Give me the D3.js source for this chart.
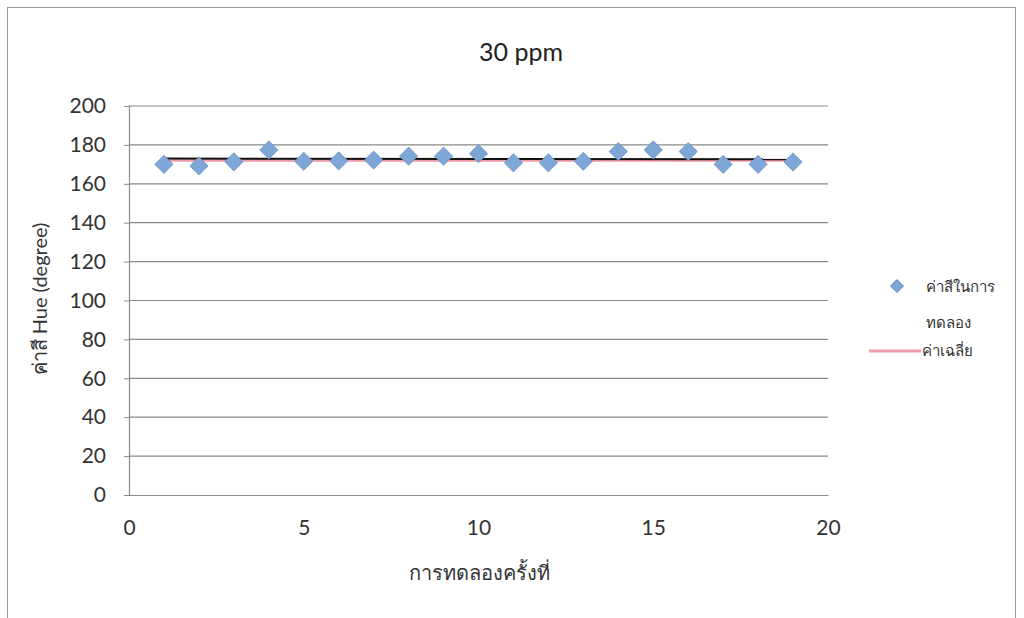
<!DOCTYPE html>
<html><head><meta charset="utf-8">
<script src="https://cdn.jsdelivr.net/npm/d3@7"></script>
<style>body{margin:0;background:#fff}svg{display:block}</style>
</head><body><svg id="c" width="1024" height="618"></svg>
<script>
const trials = [1,2,3,4,5,6,7,8,9,10,11,12,13,14,15,16,17,18,19];
const hueValues = [170,169.2,171.3,177.4,171.6,171.8,172.2,174.2,174.2,175.5,170.8,170.8,171.6,176.6,177.4,176.6,170,170,171.2];
const meanX = [1,19];
const meanValues = [172.1,172.1];
const trendValues = [173.0,172.6];
const yTicks = [0,20,40,60,80,100,120,140,160,180,200];
const xTicks = [0,5,10,15,20];
const title = "30 ppm";
const xTitle = "การทดลองครั้งที่";
const yTitle = "ค่าสี Hue (degree)";
const legendLabels = ["ค่าสีในการ","ทดลอง","ค่าเฉลี่ย"];

const svg = d3.select("#c");
const font = "Lato,'Open Sans','Noto Sans',sans-serif";
const L=129,R=828,T=106,B=495;
const x = d3.scaleLinear().domain([0,20]).range([L,R]);
const y = d3.scaleLinear().domain([0,200]).range([B,T]);

// outer border
svg.append("rect").attr("x",7.5).attr("y",7.5).attr("width",1008).attr("height",640)
  .attr("fill","none").attr("stroke","#999").attr("stroke-width",1);

// title
svg.append("text").attr("x",521).attr("y",61).attr("text-anchor","middle")
  .attr("font-family",font).attr("font-size",25).attr("fill","#222").text(title);

// gridlines
svg.append("g").selectAll("line").data(yTicks.filter(d=>d>0)).join("line")
  .attr("x1",L).attr("x2",R).attr("y1",d=>y(d)).attr("y2",d=>y(d))
  .attr("stroke","#8a8a8a").attr("stroke-width",1.2);

// y axis
const ya = svg.append("g").attr("transform",`translate(${L},0)`)
  .call(d3.axisLeft(y).tickValues(yTicks).tickSize(5).tickPadding(18));
ya.select(".domain").attr("stroke","#8a8a8a").attr("stroke-width",1.2);
ya.selectAll(".tick line").attr("stroke","#8a8a8a");
ya.selectAll("text").attr("font-family",font).attr("font-size",21).attr("fill","#333");

// x axis
const xa = svg.append("g").attr("transform",`translate(0,${B})`)
  .call(d3.axisBottom(x).tickValues(xTicks).tickSize(0).tickPadding(25));
xa.select(".domain").attr("stroke","#8a8a8a").attr("stroke-width",1.2);
xa.selectAll("text").attr("font-family",font).attr("font-size",21).attr("fill","#333");

// axis titles
svg.append("text").attr("x",479).attr("y",580).attr("text-anchor","middle")
  .attr("font-family",font).attr("font-size",20).attr("fill","#333").text(xTitle);
svg.append("text").attr("transform","translate(47,299) rotate(-90)").attr("text-anchor","middle")
  .attr("font-family",font).attr("font-size",20).attr("fill","#333").text(yTitle);

// mean line (pink)
const line = d3.line().x(d=>x(d[0])).y(d=>y(d[1]));
svg.append("path").datum(meanX.map((d,i)=>[d,meanValues[i]])).attr("d",line)
  .attr("stroke","#ee9aa8").attr("stroke-width",3).attr("fill","none");
// black line
svg.append("path").datum(meanX.map((d,i)=>[d,trendValues[i]])).attr("d",line)
  .attr("stroke","#111").attr("stroke-width",2).attr("fill","none");

// diamonds
svg.append("g").selectAll("path").data(trials).join("path")
  .attr("d",d3.symbol().type(d3.symbolSquare).size(165))
  .attr("transform",(d,i)=>`translate(${x(d)},${y(hueValues[i])}) rotate(45)`)
  .attr("fill","#7ea6d6").attr("stroke","#6b93c6").attr("stroke-width",0.8);

// legend
svg.append("path").attr("d",d3.symbol().type(d3.symbolSquare).size(80))
  .attr("transform","translate(897,286) rotate(45)").attr("fill","#7ea6d6").attr("stroke","#6b93c6");
svg.append("text").attr("x",926).attr("y",292).attr("font-family",font).attr("font-size",15).attr("fill","#333").text(legendLabels[0]);
svg.append("text").attr("x",926).attr("y",328).attr("font-family",font).attr("font-size",15).attr("fill","#333").text(legendLabels[1]);
svg.append("line").attr("x1",869).attr("x2",921).attr("y1",351).attr("y2",351).attr("stroke","#ee9aa8").attr("stroke-width",3);
svg.append("text").attr("x",922).attr("y",356).attr("font-family",font).attr("font-size",15).attr("fill","#333").text(legendLabels[2]);
</script></body></html>
